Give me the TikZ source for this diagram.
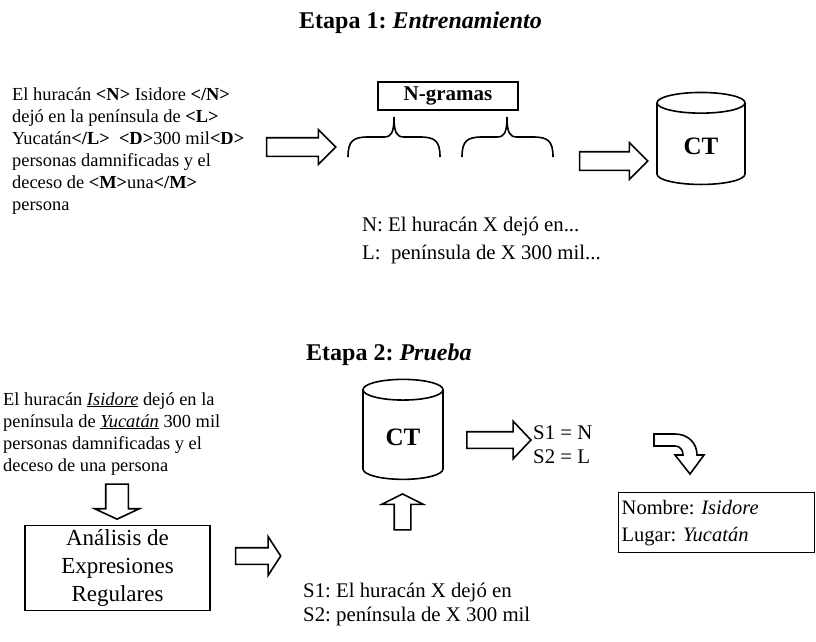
\documentclass[tikz,border=0pt]{standalone}
\usepackage{fontspec}
\setmainfont{Liberation Serif}
\frenchspacing
\usetikzlibrary{shapes.geometric,shapes.arrows,positioning}

\tikzset{
  blockarrow/.style={single arrow, draw, line width=1.6pt,
    text width=0pt, text height=0pt, text depth=0pt},
  basedatos/.style={cylinder, shape border rotate=90, draw, line width=1.6pt,
    aspect=0.5, font=\bfseries\fontsize{25}{28}\selectfont},
  texto/.style={align=left, inner sep=0pt, anchor=north west, font=\fontsize{18.4}{22}\selectfont},
  textomed/.style={align=left, inner sep=0pt, anchor=north west, font=\fontsize{20.8}{24}\selectfont},
  titulo/.style={inner sep=0pt, font=\bfseries\fontsize{24}{28}\selectfont},
}

\begin{document}
\begin{tikzpicture}[x=1pt,y=-1pt]
\useasboundingbox (0,0) rectangle (816,641);

% Etapa 1
\node[titulo, anchor=base west] (tit1) at (299,28) {Etapa 1: \textit{Entrenamiento}};
\node[texto] (ejemplo1) at (12,87)
  {El huracán \textbf{<N>} Isidore \textbf{</N>}\\
   dejó en la península de \textbf{<L>}\\
   Yucatán\textbf{</L>}\ \ \textbf{<D>}300 mil\textbf{<D>}\\
   personas damnificadas y el\\
   deceso de \textbf{<M>}una\textbf{</M>}\\
   persona};
\node[blockarrow, minimum height=69pt, inner sep=8.5pt, single arrow head extend=8pt] (flecha1) at (296.5,147) {};
\node[draw, line width=1.4pt, minimum width=140pt, minimum height=28pt, inner sep=0pt,
  font=\bfseries\fontsize{21}{24}\selectfont] (ngramas) at (448,96) {N-gramas};
\foreach \xa/\xm/\xb in {348/394/440, 462/507/553}
  \draw[line width=1.6pt] (\xa,157) .. controls (\xa,141) and (\xa+5,137) .. (\xa+20,137)
    -- (\xm-10,137) .. controls (\xm-3,137) and (\xm,133) .. (\xm,117)
    .. controls (\xm,133) and (\xm+3,137) .. (\xm+10,137)
    -- (\xb-20,137) .. controls (\xb-5,137) and (\xb,141) .. (\xb,157);
\node[blockarrow, minimum height=68pt, inner sep=8.5pt, single arrow head extend=9pt] (flecha2) at (609,161) {};
\node[basedatos, minimum height=92pt, minimum width=88pt] (ct1) at (701,146) {CT};
\node[textomed] (patrones1) at (362,216.5)
  {N: El huracán X dejó en...\\[4pt]
   L:\ \ península de X 300 mil...};

% Etapa 2
\node[titulo, anchor=base west] (tit2) at (306,360) {Etapa 2: \textit{Prueba}};
\node[texto] (ejemplo2) at (3,392)
  {El huracán \underline{\textit{Isidore}} dejó en la\\
   península de \underline{\textit{Yucatán}} 300 mil\\
   personas damnificadas y el\\
   deceso de una persona};
\node[blockarrow, shape border rotate=270, minimum height=35pt, inner sep=10.5pt,
  single arrow head extend=11pt, single arrow tip angle=130] (flecha3) at (117,499) {};
\node[draw, line width=1.6pt, minimum width=185pt, minimum height=85pt, align=center,
  inner sep=2pt, font=\fontsize{23}{28}\selectfont] (regex) at (117.5,568)
  {Análisis de\\Expresiones\\Regulares};
\node[blockarrow, minimum height=45pt, inner sep=7.5pt, single arrow head extend=11pt,
  single arrow tip angle=114] (flecha4) at (255.5,556) {};
\node[basedatos, minimum height=100pt, minimum width=80pt] (ct2) at (403,437) {CT};
\node[blockarrow, shape border rotate=90, minimum height=36pt, inner sep=7.5pt,
  single arrow head extend=12.5pt, single arrow tip angle=127] (flecha5) at (402.5,514) {};
\node[blockarrow, minimum height=64pt, inner sep=7.5pt, single arrow head extend=10.5pt,
  single arrow tip angle=93] (flecha6) at (495,440) {};
\node[textomed] (seq) at (533,425.5) {S1 = N\\S2 = L};
\draw[line width=1.6pt] (654,434) -- (675,434) .. controls (688,434) and (697,443) .. (697,455)
  -- (704,455) -- (690,474) -- (675,455) -- (683,455)
  .. controls (683,450) and (680,446) .. (675,446) -- (654,446) -- cycle;
\node[draw, line width=1.4pt, anchor=north west, minimum width=196pt, minimum height=60pt,
  text width=190pt, align=left, inner sep=2pt, font=\fontsize{20.5}{27}\selectfont] (resultado) at (618,492)
  {Nombre: \textit{Isidore}\\Lugar: \textit{Yucatán}};
\node[textomed] (patrones2) at (303,583)
  {S1: El huracán X dejó en\\
   S2: península de X 300 mil};
\end{tikzpicture}
\end{document}
